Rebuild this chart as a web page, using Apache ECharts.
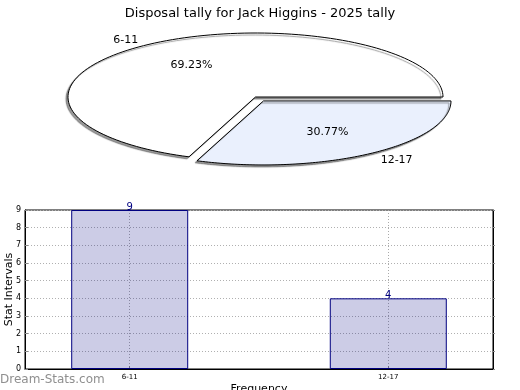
<!DOCTYPE html>
<html>
<head>
<meta charset="utf-8">
<script src="https://cdn.jsdelivr.net/npm/echarts@6/dist/echarts.min.js"></script>
<style>html,body{margin:0;padding:0;background:#fff}#c{width:520px;height:390px}</style>
</head>
<body>
<div id="c"></div>
<script>
// ---- data ----
var titleText = 'Disposal tally for Jack Higgins - 2025 tally';
var categories = ['6-11', '12-17'];
var counts = [9, 4];
var pieColors = ['#ffffff', '#eaf0fd'];
var explode = [0, 0.075];
var yTicks = [0, 1, 2, 3, 4, 5, 6, 7, 8, 9];
var yAxisName = 'Stat Intervals';
var xAxisName = 'Frequency';
var watermark = 'Dream-Stats.com';

var FONT = 'DejaVu Sans';
var total = counts.reduce(function (a, b) { return a + b; }, 0);

// pie layout (ellipse)
var PCX = 255.5, PCY = 97, PRX = 187.5, PRY = 64;

function pieRender(params, api) {
  var i = params.dataIndex;
  var start = 0;
  for (var k = 0; k < i; k++) start += counts[k] / total * 2 * Math.PI;
  var span = counts[i] / total * 2 * Math.PI;
  var mid = start + span / 2;
  var ox = explode[i] * PRX * Math.cos(mid);
  var oy = -explode[i] * PRY * Math.sin(mid);
  var cx = PCX + ox, cy = PCY + oy;
  var pts = [[cx, cy]];
  var n = 120;
  for (var s = 0; s <= n; s++) {
    var a = start + span * s / n;
    pts.push([cx + PRX * Math.cos(a), cy - PRY * Math.sin(a)]);
  }
  var pct = (counts[i] / total * 100).toFixed(2) + '%';
  var lx = cx + 1.1 * PRX * Math.cos(mid);
  var ly = cy - 1.1 * PRY * Math.sin(mid) + 1;
  var px = cx + 0.6 * PRX * Math.cos(mid);
  var py = cy - 0.6 * PRY * Math.sin(mid);
  return {
    type: 'group',
    children: [
      {
        type: 'polygon',
        shape: { points: pts },
        style: {
          fill: pieColors[i], stroke: '#000', lineWidth: 1,
          shadowColor: 'rgba(0,0,0,0.4)', shadowBlur: 1, shadowOffsetX: -2, shadowOffsetY: 2
        }
      },
      {
        type: 'text',
        style: {
          x: px, y: py, text: pct, fill: '#000', font: '11px "' + FONT + '"',
          align: 'center', verticalAlign: 'middle'
        }
      },
      {
        type: 'text',
        style: {
          x: lx, y: ly, text: categories[i], fill: '#000', font: '11px "' + FONT + '"',
          align: Math.cos(mid) >= 0 ? 'left' : 'right', verticalAlign: 'middle'
        }
      }
    ]
  };
}

var barData = counts.map(function (v, i) { return [i, v]; });

var chart = echarts.init(document.getElementById('c'), null, { renderer: 'canvas' });
chart.setOption({
  animation: false,
  backgroundColor: '#fff',
  textStyle: { fontFamily: FONT },
  title: {
    text: titleText, left: 'center', top: 2,
    textStyle: { fontFamily: FONT, fontSize: 13, fontWeight: 'normal', color: '#000' }
  },
  graphic: [{
    type: 'text', left: 0, top: 374,
    style: { text: watermark, fill: '#8f8f8f', font: '12px "' + FONT + '"' }
  }],
  grid: {
    left: 25, right: 27, top: 210, bottom: 21, show: true,
    containLabel: false, outerBoundsMode: 'none',
    borderColor: '#000', borderWidth: 1, backgroundColor: 'transparent'
  },
  xAxis: {
    type: 'value', min: -0.405, max: 1.405,
    name: xAxisName, nameLocation: 'middle', nameGap: 15, nameMoveOverlap: false,
    nameTextStyle: { fontFamily: FONT, fontSize: 11, color: '#000' },
    axisLine: { show: true, onZero: false, lineStyle: { color: '#000' } },
    axisTick: { show: true, inside: true, length: 3, customValues: [0, 1], lineStyle: { color: '#888' } },
    axisLabel: {
      customValues: [0, 1], fontSize: 7, color: '#000', margin: 5,
      formatter: function (v) { return categories[Math.round(v)]; }
    },
    splitLine: { show: true, lineStyle: { color: '#aaaaaa', type: [1, 2] } }
  },
  yAxis: [{
    type: 'value', min: 0, max: 9, interval: 1,
    name: yAxisName, nameLocation: 'middle', nameGap: 10, nameMoveOverlap: false,
    nameTextStyle: { fontFamily: FONT, fontSize: 11, color: '#000' },
    axisLine: { show: true, onZero: false, lineStyle: { color: '#000' } },
    axisTick: { show: true, inside: true, length: 3, lineStyle: { color: '#888' } },
    axisLabel: { fontSize: 8, color: '#000', margin: 4,
      formatter: function (v) { return yTicks.indexOf(v) >= 0 ? String(v) : ''; } },
    splitLine: { show: true, lineStyle: { color: '#b0b0b0', type: [1, 2] } }
  }, {
    type: 'value', min: 0, max: 9, interval: 1, position: 'right',
    axisLine: { show: true, onZero: false, lineStyle: { color: '#000' } },
    axisTick: { show: true, inside: false, length: 2, lineStyle: { color: '#888' } },
    axisLabel: { show: false }, splitLine: { show: false }
  }],
  series: [
    {
      type: 'custom', coordinateSystem: 'none',
      data: counts, renderItem: pieRender, silent: true, z: 5
    },
    {
      type: 'bar', data: barData, barWidth: 117, yAxisIndex: 0,
      itemStyle: { color: 'rgba(0,0,128,0.2)', borderColor: '#000080', borderWidth: 1 },
      label: { show: true, position: 'top', distance: 0, offset: [0, 2], color: '#000080', fontSize: 10, fontFamily: FONT }
    }
  ]
});
</script>
</body>
</html>
